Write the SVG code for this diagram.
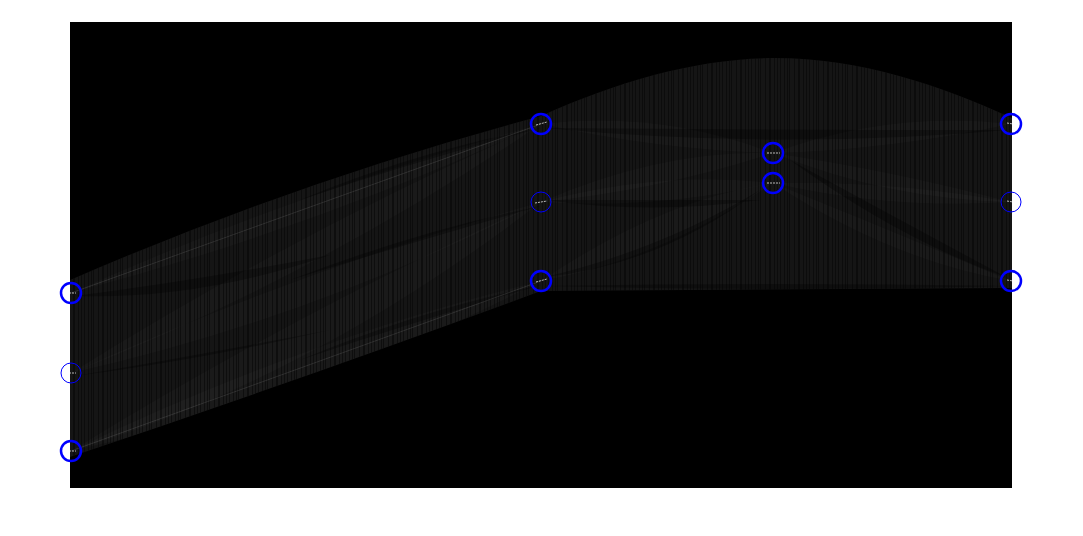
<svg xmlns="http://www.w3.org/2000/svg" width="1083" height="536" viewBox="0 0 1083 536">
<defs>
<pattern id="stripes" x="0" y="0" width="29" height="10" patternUnits="userSpaceOnUse">
<rect x="1" y="0" width="1" height="10" fill="#000"/>
<rect x="4" y="0" width="1" height="10" fill="#000"/>
<rect x="6" y="0" width="1" height="10" fill="#000"/>
<rect x="11" y="0" width="1" height="10" fill="#000"/>
<rect x="15" y="0" width="2" height="10" fill="#000"/>
<rect x="20" y="0" width="1" height="10" fill="#000"/>
<rect x="23" y="0" width="1" height="10" fill="#000"/>
<rect x="26" y="0" width="1" height="10" fill="#000"/>
</pattern>
<clipPath id="regclip">
<path d="M70,280 Q300,180 541,116 C620,80 700,58 775,58 C860,58 940,85 1012,118 L1012,288 L541,291 Q300,380 70,457 Z"/>
</clipPath>
</defs>
<style>
.base{fill:#151515}
.lens{fill:#ffffff;fill-opacity:0.022}
.gap{fill:#000000;fill-opacity:0.3}
.mid{stroke:#ffffff;stroke-opacity:0.1;stroke-width:1;fill:none}
.node{fill:none;stroke:#0000ff}
.thick{stroke-width:2.5}
.thin{stroke-width:1}
.tick{stroke:#ffffff;stroke-opacity:0.7;stroke-width:1;stroke-dasharray:2 1}
</style>
<rect x="0" y="0" width="1083" height="536" fill="#ffffff"/>
<rect x="70" y="22" width="942" height="466" fill="#000000"/>
<g id="connectors">
<g clip-path="url(#regclip)">
<rect class="base" x="70" y="50" width="942" height="410"/>
<path class="lens" d="M71,293 Q300,190 541,124 Q310,230 71,293Z"/>
<path class="lens" d="M71,373 Q300,270 541,202 Q310,320 71,373Z"/>
<path class="lens" d="M71,451 Q300,340 541,281 Q310,400 71,451Z"/>
<path class="lens" d="M71,373 Q300,230 541,124 Q310,280 71,373Z"/>
<path class="lens" d="M71,451 Q300,310 541,202 Q310,380 71,451Z"/>
<path class="gap" d="M75,296 Q200,300 330,255 Q200,280 75,296Z"/>
<path class="gap" d="M75,376 Q200,360 330,330 Q200,355 75,376Z"/>
<path class="gap" d="M75,454 Q250,420 541,300 Q300,440 75,454Z"/>
<path class="gap" d="M541,128 Q420,150 300,200 Q420,160 541,128Z"/>
<path class="gap" d="M541,206 Q420,230 290,280 Q420,240 541,206Z"/>
<path class="gap" d="M541,285 Q420,310 300,360 Q420,320 541,285Z"/>
<path class="lens" d="M541,124 Q660,110 773,153 Q660,150 541,124Z"/>
<path class="lens" d="M541,202 Q660,150 773,153 Q660,190 541,202Z"/>
<path class="lens" d="M541,202 Q660,170 773,183 Q660,210 541,202Z"/>
<path class="lens" d="M541,281 Q660,200 773,183 Q660,260 541,281Z"/>
<path class="lens" d="M773,153 Q890,110 1011,124 Q890,150 773,153Z"/>
<path class="lens" d="M773,153 Q890,170 1011,202 Q890,200 773,153Z"/>
<path class="lens" d="M773,183 Q890,180 1011,202 Q890,210 773,183Z"/>
<path class="lens" d="M773,183 Q890,230 1011,281 Q890,260 773,183Z"/>
<path class="gap" d="M545,128 Q780,130 1008,130 Q780,150 545,128Z"/>
<path class="gap" d="M545,200 Q650,215 760,200 Q650,200 545,200Z"/>
<path class="gap" d="M790,160 Q900,220 1008,278 Q900,240 790,160Z"/>
<path class="gap" d="M545,277 Q660,250 760,190 Q660,265 545,277Z"/>
<path class="gap" d="M545,286 Q780,282 1008,286 Q780,292 545,286Z"/>
<rect x="70" y="50" width="942" height="410" fill="url(#stripes)" opacity="0.45"/>
</g>
<line class="mid" x1="71" y1="293" x2="541" y2="124"/>
<line class="mid" x1="71" y1="451" x2="541" y2="281"/>
</g>
<g id="n1"><circle class="node thick" cx="71" cy="293" r="10"/><line class="tick" x1="66" y1="293" x2="76" y2="293"/></g>
<g id="n2"><circle class="node thin" cx="71" cy="373" r="10"/><line class="tick" x1="66" y1="373" x2="76" y2="373"/></g>
<g id="n3"><circle class="node thick" cx="71" cy="451" r="10"/><line class="tick" x1="66" y1="451" x2="76" y2="451"/></g>
<g id="n4"><circle class="node thick" cx="541" cy="124" r="10"/><line class="tick" x1="536" y1="125" x2="547" y2="122"/></g>
<g id="n5"><circle class="node thin" cx="541" cy="202" r="10"/><line class="tick" x1="535" y1="203" x2="547" y2="201"/></g>
<g id="n6"><circle class="node thick" cx="541" cy="281" r="10"/><line class="tick" x1="536" y1="282" x2="547" y2="279"/></g>
<g id="n7"><circle class="node thick" cx="773" cy="153" r="10"/><line class="tick" x1="767" y1="153" x2="780" y2="153"/></g>
<g id="n8"><circle class="node thick" cx="773" cy="183" r="10"/><line class="tick" x1="767" y1="183" x2="780" y2="183"/></g>
<g id="n9"><circle class="node thick" cx="1011" cy="124" r="10"/><line class="tick" x1="1007" y1="123" x2="1013" y2="124"/></g>
<g id="n10"><circle class="node thin" cx="1011" cy="202" r="10"/><line class="tick" x1="1007" y1="201" x2="1013" y2="202"/></g>
<g id="n11"><circle class="node thick" cx="1011" cy="281" r="10"/><line class="tick" x1="1007" y1="280" x2="1013" y2="281"/></g>
</svg>
